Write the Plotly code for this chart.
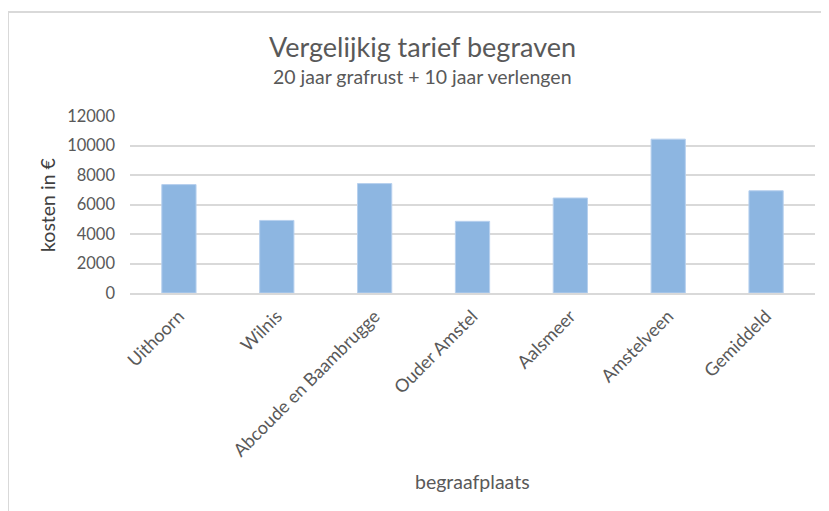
import plotly.graph_objects as go

categories = ["Uithoorn", "Wilnis", "Abcoude en Baambrugge", "Ouder Amstel",
              "Aalsmeer", "Amstelveen", "Gemiddeld"]
kosten = [7350, 4920, 7420, 4860, 6440, 10430, 6930]
y_ticks = [0, 2000, 4000, 6000, 8000, 10000, 12000]

W, H = 829, 511
OFF = 8  # page body margin
# target plot area in screenshot pixels
X0, X1, Y0, Y1 = 130, 815, 116, 293
L, T = X0 - OFF, Y0 - OFF
R = W - (X1 - OFF)
B = H - (Y1 - OFF)
pw, ph = X1 - X0, Y1 - Y0

def px(x):
    return (x - X0) / pw

def py(y):
    return (Y1 - y) / ph

font = "Lato, Open Sans, sans-serif"
grey = "#595959"

fig = go.Figure(go.Bar(
    x=categories, y=kosten, width=0.35,
    marker=dict(color="#8DB6E1", line=dict(color="#B7D0EE", width=1)),
))

fig.update_layout(
    width=W, height=H,
    margin=dict(l=L, r=R, t=T, b=B),
    paper_bgcolor="white", plot_bgcolor="white",
    showlegend=False,
    font=dict(family=font, color=grey),
    xaxis=dict(tickangle=-45, tickfont=dict(size=18, color=grey),
               showgrid=False, showline=True, linecolor="#D9D9D9", linewidth=1.5,
               ticks="", automargin=False, ticklabelstandoff=4),
    yaxis=dict(range=[0, 12000], tickvals=y_ticks, ticktext=[str(v) for v in y_ticks],
               tickfont=dict(size=16.5, color=grey), showgrid=True,
               gridcolor="#D9D9D9", gridwidth=1.5, zeroline=False,
               ticklabelstandoff=14, automargin=False),
    annotations=[
        dict(text="Vergelijkig tarief begraven", x=px(422), y=py(46), xref="paper", yref="paper",
             showarrow=False, font=dict(size=27, color=grey), xanchor="center", yanchor="middle"),
        dict(text="20 jaar grafrust + 10 jaar verlengen", x=px(422), y=py(77), xref="paper", yref="paper",
             showarrow=False, font=dict(size=19.5, color=grey), xanchor="center", yanchor="middle"),
        dict(text="kosten in €", x=px(47), y=py(205), xref="paper", yref="paper",
             showarrow=False, textangle=-90, font=dict(size=19.5, color="#404040"),
             xanchor="center", yanchor="middle"),
        dict(text="begraafplaats", x=px(472), y=py(481), xref="paper", yref="paper",
             showarrow=False, font=dict(size=19.5, color=grey), xanchor="center", yanchor="middle"),
    ],
    shapes=[
        dict(type="rect", xref="paper", yref="paper",
             x0=px(8), x1=px(845), y0=py(530), y1=py(12),
             line=dict(color="#D9D9D9", width=2), fillcolor="rgba(0,0,0,0)", layer="below"),
    ],
)

fig.write_html("out.html")
